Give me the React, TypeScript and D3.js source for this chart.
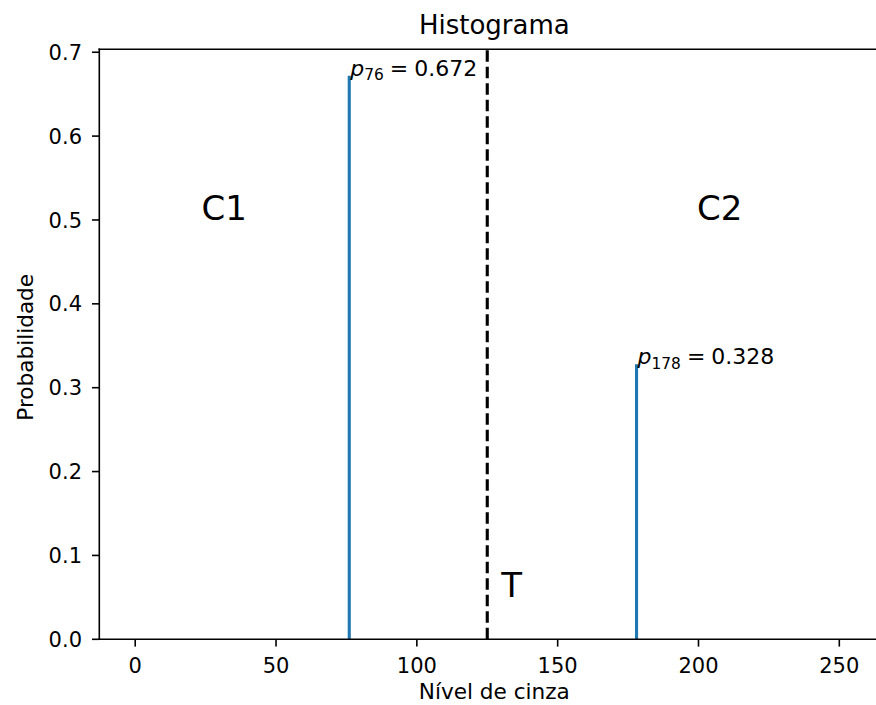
import React from "react";
import * as d3 from "d3";

const grayLevels = [76, 178];
const probabilities = [0.672, 0.328];
const threshold = 125;
const xTicks = [0, 50, 100, 150, 200, 250];
const yTicks = [0, 0.1, 0.2, 0.3, 0.4, 0.5, 0.6, 0.7];
const xDomain = [-12.75, 267.75];
const yMax = 0.7035;
const classLabels = [
  { text: "C1", x: 23.5, y: 0.5 },
  { text: "C2", x: 199.5, y: 0.5 },
];
const thresholdLabel = { text: "T", x: 130, y: 0.05 };

const W = 876;
const H = 705;
const FONT = "DejaVu Sans, sans-serif";

export default function App() {
  const left = 99.3;
  const right = 889.3;
  const top = 49.3;
  const bottom = 639.3;
  const x = d3.scaleLinear().domain(xDomain).range([left, right]);
  const y = d3.scaleLinear().domain([0, yMax]).range([bottom, top]);
  const fs = 21;
  const labelFs = 21.6;
  const annFs = 22;
  const tickLen = 7.3;
  const lw = 1.6;
  const cx = (left + right) / 2;

  return (
    <svg
      width={W}
      height={H}
      style={{ position: "absolute", left: 0, top: 0, background: "#fff" }}
      fontFamily={FONT}
    >
      <rect x={0} y={0} width={W} height={H} fill="#fff" />
      {grayLevels.map((g, i) => (
        <line
          key={"s" + i}
          x1={x(g)}
          x2={x(g)}
          y1={y(0)}
          y2={y(probabilities[i])}
          stroke="#1f77b4"
          strokeWidth={3.1}
        />
      ))}
      <line
        x1={x(threshold)}
        x2={x(threshold)}
        y1={bottom}
        y2={top}
        stroke="#000"
        strokeWidth={3.1}
        strokeDasharray="11.5,5"
      />
      {grayLevels.map((g, i) => (
        <text key={"a" + i} x={x(g) + 1} y={y(probabilities[i])} fontSize={annFs} fill="#000">
          <tspan fontStyle="italic">p</tspan>
          <tspan fontSize={annFs * 0.7} dy={annFs * 0.2}>{String(g)}</tspan>
          <tspan dy={-annFs * 0.2} dx={6}>=</tspan>
          <tspan dx={6}>{probabilities[i].toFixed(3)}</tspan>
        </text>
      ))}
      {classLabels.map((c) => (
        <text key={c.text} x={x(c.x)} y={y(c.y)} fontSize={34} fill="#000">
          {c.text}
        </text>
      ))}
      <text x={x(thresholdLabel.x)} y={y(thresholdLabel.y)} fontSize={34} fill="#000">
        {thresholdLabel.text}
      </text>
      <line x1={left} x2={left} y1={top} y2={bottom} stroke="#000" strokeWidth={lw} strokeLinecap="square" />
      <line x1={left} x2={right} y1={bottom} y2={bottom} stroke="#000" strokeWidth={lw} strokeLinecap="square" />
      <line x1={left} x2={right} y1={top} y2={top} stroke="#000" strokeWidth={lw} strokeLinecap="square" />
      <line x1={right} x2={right} y1={top} y2={bottom} stroke="#000" strokeWidth={lw} />
      {xTicks.map((t) => (
        <g key={"x" + t}>
          <line x1={x(t)} x2={x(t)} y1={bottom} y2={bottom + tickLen} stroke="#000" strokeWidth={lw} />
          <text x={x(t)} y={673.3} fontSize={fs} textAnchor="middle" fill="#000">
            {String(t)}
          </text>
        </g>
      ))}
      {yTicks.map((t) => (
        <g key={"y" + t}>
          <line x1={left - tickLen} x2={left} y1={y(t)} y2={y(t)} stroke="#000" strokeWidth={lw} />
          <text x={82} y={y(t) + 7.6} fontSize={fs} textAnchor="end" fill="#000">
            {t.toFixed(1)}
          </text>
        </g>
      ))}
      <text x={cx} y={33.5} fontSize={26} textAnchor="middle" fill="#000">
        Histograma
      </text>
      <text x={cx} y={699} fontSize={labelFs} textAnchor="middle" fill="#000">
        Nível de cinza
      </text>
      <text
        transform={`translate(33,${(top + bottom) / 2 + 3}) rotate(-90)`}
        fontSize={labelFs}
        textAnchor="middle"
        fill="#000"
      >
        Probabilidade
      </text>
    </svg>
  );
}
